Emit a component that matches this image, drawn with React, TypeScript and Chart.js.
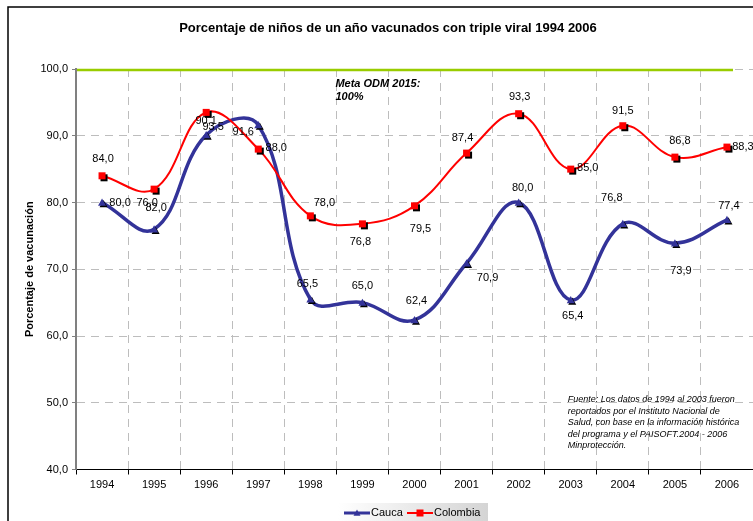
import React, { useEffect, useRef } from 'react';
import { Chart, registerables } from 'chart.js';

Chart.register(...registerables);

const FONT = '"Liberation Sans", Arial, sans-serif';

const chartTitle = 'Porcentaje de niños de un año vacunados con triple viral 1994 2006';
const yAxisTitle = 'Porcentaje de vacunación';
const years = ['1994', '1995', '1996', '1997', '1998', '1999', '2000', '2001', '2002', '2003', '2004', '2005', '2006'];
const cauca = [80.0, 76.0, 90.1, 91.6, 65.5, 65.0, 62.4, 70.9, 80.0, 65.4, 76.8, 73.9, 77.4];
const colombia = [84.0, 82.0, 93.5, 88.0, 78.0, 76.8, 79.5, 87.4, 93.3, 85.0, 91.5, 86.8, 88.3];
const yMin = 40;
const yMax = 100;
const yStep = 10;
const goalValue = 100;
const goalLabel = ['Meta ODM 2015:', '100%'];
const sourceNote = [
  'Fuente: Los datos de 1994 al 2003 fueron',
  'reportados por el Instituto Nacional de',
  'Salud, con base en la información histórica',
  'del programa y el PAISOFT.2004 - 2006',
  'Minprotección.',
];

// label placement (style): [dx, dy] from each marker
const caucaLabelOffsets = [[18, 0], [-7, -26], [0, -14], [-15, 7], [-3, -15], [0, -17], [2, -19], [21, 15], [4, -15], [2, 16], [-11, -26], [6, 28], [2, -14]];
const colombiaLabelOffsets = [[1, -17], [2, 19], [7, 15], [18, -1], [14, -13], [-2, 18], [6, 23], [-4, -15], [1, -17], [17, -1], [0, -15], [5, -16], [16, 0]];

const CAUCA_COLOR = '#333399';
const COLOMBIA_COLOR = '#ff0000';
const GRID_COLOR = '#bdbdbd';

const fmt = (v: number) => v.toFixed(1).replace('.', ',');

function drawTriangle(ctx: CanvasRenderingContext2D, x: number, y: number, s: number, color: string) {
  ctx.fillStyle = color;
  ctx.beginPath();
  ctx.moveTo(x, y - s);
  ctx.lineTo(x + s, y + s * 0.8);
  ctx.lineTo(x - s, y + s * 0.8);
  ctx.closePath();
  ctx.fill();
}

function drawSquare(ctx: CanvasRenderingContext2D, x: number, y: number, s: number, color: string) {
  ctx.fillStyle = color;
  ctx.fillRect(x - s, y - s, s * 2, s * 2);
}

const decorPlugin = {
  id: 'decor',
  beforeDraw(chart: any) {
    const ctx = chart.ctx as CanvasRenderingContext2D;
    ctx.save();
    ctx.fillStyle = '#ffffff';
    ctx.fillRect(0, 0, chart.width, chart.height);
    ctx.restore();
  },
  beforeDatasetsDraw(chart: any) {
    const ctx = chart.ctx as CanvasRenderingContext2D;
    const xs = chart.scales.x;
    const ys = chart.scales.y;
    const area = chart.chartArea;
    const gy = ys.getPixelForValue(goalValue);
    ctx.save();
    ctx.strokeStyle = '#99cc00';
    ctx.lineWidth = 2.5;
    ctx.beginPath();
    ctx.moveTo(area.left + 1, gy + 1);
    ctx.lineTo(area.right - 20, gy + 1);
    ctx.stroke();
    ctx.fillStyle = '#000';
    ctx.font = `bold italic 11px ${FONT}`;
    ctx.textAlign = 'left';
    ctx.textBaseline = 'middle';
    const tx = xs.getPixelForValue(5) - 27;
    goalLabel.forEach((l, i) => ctx.fillText(l, tx, gy + 15 + i * 13));
    // source note
    ctx.font = `italic 9px ${FONT}`;
    const nx = xs.getPixelForValue(9) - 3;
    const ny = ys.getPixelForValue(50) - 3;
    sourceNote.forEach((l, i) => ctx.fillText(l, nx, ny + i * 11.5));
    ctx.restore();
  },
  afterDatasetsDraw(chart: any) {
    const ctx = chart.ctx as CanvasRenderingContext2D;
    ctx.save();
    const m0 = chart.getDatasetMeta(0);
    const m1 = chart.getDatasetMeta(1);
    m0.data.forEach((p: any) => {
      drawTriangle(ctx, p.x + 1.5, p.y + 1.5, 4, '#000');
      drawTriangle(ctx, p.x, p.y, 4, CAUCA_COLOR);
    });
    m1.data.forEach((p: any) => {
      drawSquare(ctx, p.x + 2, p.y + 2, 3.5, '#000');
      drawSquare(ctx, p.x, p.y, 3.5, COLOMBIA_COLOR);
    });
    ctx.fillStyle = '#000';
    ctx.font = `11px ${FONT}`;
    ctx.textAlign = 'center';
    ctx.textBaseline = 'middle';
    m0.data.forEach((p: any, i: number) => {
      const [dx, dy] = caucaLabelOffsets[i];
      ctx.fillText(fmt(cauca[i]), p.x + dx, p.y + dy);
    });
    m1.data.forEach((p: any, i: number) => {
      const [dx, dy] = colombiaLabelOffsets[i];
      ctx.fillText(fmt(colombia[i]), p.x + dx, p.y + dy);
    });
    ctx.restore();
  },
  afterDraw(chart: any) {
    const ctx = chart.ctx as CanvasRenderingContext2D;
    const area = chart.chartArea;
    ctx.save();
    // title
    ctx.fillStyle = '#000';
    ctx.font = `bold 13px ${FONT}`;
    ctx.textAlign = 'center';
    ctx.textBaseline = 'middle';
    ctx.fillText(chartTitle, 388, 28);
    // y axis title
    ctx.save();
    ctx.translate(30, (area.top + area.bottom) / 2);
    ctx.rotate(-Math.PI / 2);
    ctx.font = `bold 11px ${FONT}`;
    ctx.fillText(yAxisTitle, 0, 0);
    ctx.restore();
    // legend
    const lx = 338, ly = 503, lw = 150, lh = 20;
    const grad = ctx.createLinearGradient(lx, 0, lx + lw, 0);
    grad.addColorStop(0, '#ffffff');
    grad.addColorStop(1, '#d4d4d4');
    ctx.fillStyle = grad;
    ctx.fillRect(lx, ly, lw, lh);
    const cy = 513;
    ctx.strokeStyle = CAUCA_COLOR;
    ctx.lineWidth = 3;
    ctx.beginPath();
    ctx.moveTo(344, cy);
    ctx.lineTo(370, cy);
    ctx.stroke();
    drawTriangle(ctx, 357, cy, 3.5, CAUCA_COLOR);
    ctx.strokeStyle = COLOMBIA_COLOR;
    ctx.lineWidth = 2;
    ctx.beginPath();
    ctx.moveTo(407, cy);
    ctx.lineTo(433, cy);
    ctx.stroke();
    drawSquare(ctx, 420, cy, 3.5, COLOMBIA_COLOR);
    ctx.fillStyle = '#000';
    ctx.font = `11px ${FONT}`;
    ctx.textAlign = 'left';
    ctx.fillText(chart.data.datasets[0].label, 371, cy);
    ctx.fillText(chart.data.datasets[1].label, 434, cy);
    // frame
    ctx.strokeStyle = '#000';
    ctx.lineWidth = 1.5;
    ctx.beginPath();
    ctx.moveTo(8, chart.height + 5);
    ctx.lineTo(8, 7);
    ctx.lineTo(chart.width + 5, 7);
    ctx.stroke();
    ctx.restore();
  },
};

export default function App() {
  const ref = useRef<HTMLCanvasElement | null>(null);
  useEffect(() => {
    document.body.style.margin = '0';
    const canvas = ref.current;
    if (!canvas) return;
    const chart = new Chart(canvas, {
      type: 'line',
      data: {
        labels: years,
        datasets: [
          {
            label: 'Cauca',
            data: cauca,
            borderColor: CAUCA_COLOR,
            borderWidth: 3.5,
            tension: 0.4,
            pointRadius: 0,
            pointHoverRadius: 0,
            fill: false,
            order: 2,
          },
          {
            label: 'Colombia',
            data: colombia,
            borderColor: COLOMBIA_COLOR,
            borderWidth: 2,
            tension: 0.4,
            pointRadius: 0,
            pointHoverRadius: 0,
            fill: false,
            order: 1,
          },
        ],
      },
      options: {
        animation: false,
        responsive: false,
        devicePixelRatio: 1,
        events: [],
        layout: { padding: { top: 69, left: 0, right: 0, bottom: 0 } },
        plugins: {
          legend: { display: false },
          title: { display: false },
          tooltip: { enabled: false },
        },
        scales: {
          x: {
            type: 'category',
            offset: true,
            afterFit: (s: any) => {
              s.height = 51.5;
            },
            grid: {
              offset: true,
              color: (c: any) => (c.index === 0 ? 'rgba(0,0,0,0)' : GRID_COLOR),
              tickColor: '#000',
              tickLength: 5,
              lineWidth: 1,
            },
            border: { color: '#000', width: 1, dash: [8, 6] },
            ticks: {
              color: '#000',
              font: { family: FONT, size: 11 },
              padding: 4,
              maxRotation: 0,
              autoSkip: false,
            },
          },
          y: {
            min: yMin,
            max: yMax,
            afterFit: (s: any) => {
              s.width = 76;
            },
            grid: {
              color: (c: any) => (c.tick && c.tick.value === yMin ? 'rgba(0,0,0,0)' : GRID_COLOR),
              tickColor: '#808080',
              tickLength: 4,
              lineWidth: 1,
            },
            border: { color: '#808080', width: 2, dash: [8, 6] },
            ticks: {
              stepSize: yStep,
              color: '#000',
              font: { family: FONT, size: 11 },
              padding: 4,
              callback: (v: any) => fmt(Number(v)),
            },
          },
        },
      },
      plugins: [decorPlugin],
    });
    return () => chart.destroy();
  }, []);
  return (
    <div style={{ position: 'absolute', left: 0, top: 0, width: 753, height: 521 }}>
      <canvas ref={ref} width={753} height={521} style={{ display: 'block', width: 753, height: 521 }} />
    </div>
  );
}
